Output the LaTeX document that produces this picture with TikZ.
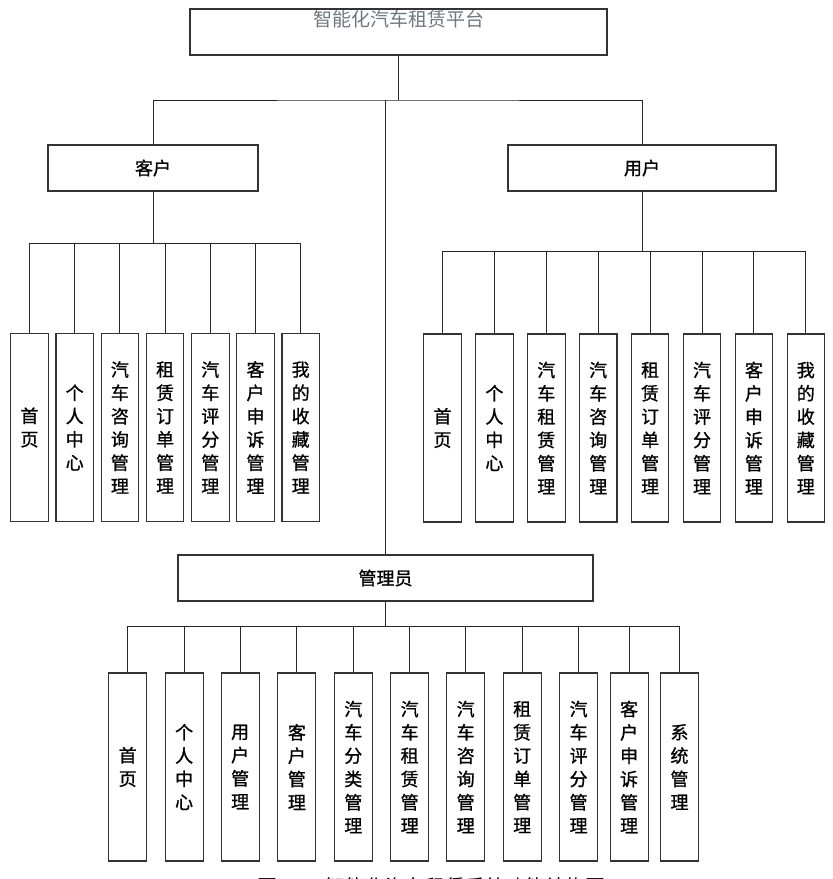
\documentclass[tikz,border=0pt]{standalone}
\usepackage{fontspec}
\setmainfont{Noto Sans CJK SC}
\newfontfamily\boxfont[FakeBold=1]{Noto Sans CJK SC}
\begin{document}
\begin{tikzpicture}[x=1pt,y=-1pt,
  box/.style={draw=black!80, line width=1.1pt, rectangle, inner sep=0pt, font=\boxfont\fontsize{18}{23.3}\selectfont, align=center},
  hbox/.style={box, minimum height=46pt},
  vbox/.style={box, minimum width=37.5pt, minimum height=188pt},
  link/.style={draw=black!85, line width=0.9pt}]
\useasboundingbox (0,0) rectangle (833,879);
\clip (0,0) rectangle (833,879);

% top
\node[hbox, minimum width=417pt] (top) at (398.5,32) {};
\node[font=\fontsize{19}{22}\selectfont, text={rgb,255:red,110;green,120;blue,130}, inner sep=0pt] (toptext) at (398.5,19) {智能化汽车租赁平台};

% level 2
\node[hbox, minimum width=210pt] (kh) at (153,168) {客户};
\node[hbox, minimum width=268pt] (yh) at (642,168) {用户};
\node[hbox, minimum width=415pt] (adm) at (385.5,578) {管理员};

\coordinate (bus) at (398.5,100);
\draw[link] (top.south) -- (bus);
\draw[link] (kh.north) |- (bus) -| (yh.north);
\draw[link] (adm.north) -- (adm.north |- bus);

% customer children
\node[vbox] (k1) at (29.5,427.5) {首\\页};
\node[vbox] (k2) at (74.7,427.5) {个\\人\\中\\心};
\node[vbox] (k3) at (119.9,427.5) {汽\\车\\咨\\询\\管\\理};
\node[vbox] (k4) at (165.1,427.5) {租\\赁\\订\\单\\管\\理};
\node[vbox] (k5) at (210.3,427.5) {汽\\车\\评\\分\\管\\理};
\node[vbox] (k6) at (255.5,427.5) {客\\户\\申\\诉\\管\\理};
\node[vbox] (k7) at (300.7,427.5) {我\\的\\收\\藏\\管\\理};
\foreach \i in {1,...,7} \draw[link] (kh.south) -- ++(0,52) -| (k\i.north);

% user children
\node[vbox] (u1) at (442.5,428) {首\\页};
\node[vbox] (u2) at (494.4,428) {个\\人\\中\\心};
\node[vbox] (u3) at (546.3,428) {汽\\车\\租\\赁\\管\\理};
\node[vbox] (u4) at (598.2,428) {汽\\车\\咨\\询\\管\\理};
\node[vbox] (u5) at (650.1,428) {租\\赁\\订\\单\\管\\理};
\node[vbox] (u6) at (702.0,428) {汽\\车\\评\\分\\管\\理};
\node[vbox] (u7) at (753.9,428) {客\\户\\申\\诉\\管\\理};
\node[vbox] (u8) at (805.8,428) {我\\的\\收\\藏\\管\\理};
\foreach \i in {1,...,8} \draw[link] (yh.south) -- ++(0,60) -| (u\i.north);

% admin children
\node[vbox, minimum width=38pt] (a1) at (127.7,767) {首\\页};
\node[vbox, minimum width=38pt] (a2) at (184.1,767) {个\\人\\中\\心};
\node[vbox, minimum width=38pt] (a3) at (240.1,767) {用\\户\\管\\理};
\node[vbox, minimum width=38pt] (a4) at (296.9,767) {客\\户\\管\\理};
\node[vbox, minimum width=38pt] (a5) at (353.3,767) {汽\\车\\分\\类\\管\\理};
\node[vbox, minimum width=38pt] (a6) at (409.7,767) {汽\\车\\租\\赁\\管\\理};
\node[vbox, minimum width=38pt] (a7) at (465.7,767) {汽\\车\\咨\\询\\管\\理};
\node[vbox, minimum width=38pt] (a8) at (522.2,767) {租\\赁\\订\\单\\管\\理};
\node[vbox, minimum width=38pt] (a9) at (578.6,767) {汽\\车\\评\\分\\管\\理};
\node[vbox, minimum width=38pt] (a10) at (629.1,767) {客\\户\\申\\诉\\管\\理};
\node[vbox, minimum width=38pt] (a11) at (679.5,767) {系\\统\\管\\理};
\foreach \i in {1,...,11} \draw[link] (adm.south) -- ++(0,25) -| (a\i.north);

% caption (cut off at the bottom edge, as in the reference)
\node[anchor=base, inner sep=0pt, font=\fontsize{20}{24}\selectfont] (cap1) at (267,894) {图};
\node[anchor=base west, inner sep=0pt, font=\fontsize{20}{24}\selectfont] (cap2) at (325,894) {智能化汽车租赁系统功能结构图};
\end{tikzpicture}
\end{document}
